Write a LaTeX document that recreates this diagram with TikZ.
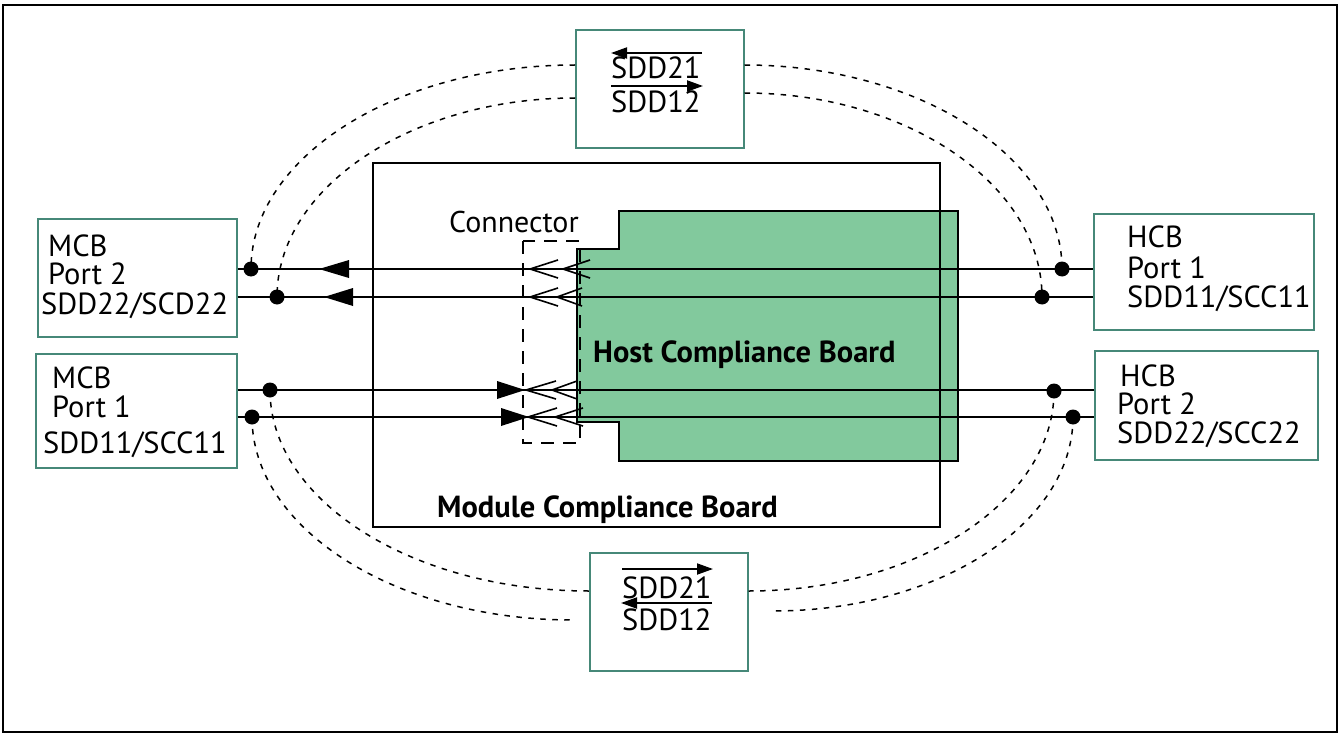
\documentclass[tikz,border=0pt]{standalone}
\usepackage{fontspec}
\setmainfont{PT Sans}
\usetikzlibrary{arrows.meta}
\definecolor{tealb}{RGB}{70,136,120}
\definecolor{hcbgreen}{RGB}{130,201,157}
\begin{document}
\begin{tikzpicture}[x=1pt,y=-1pt,
  portbox/.style={draw=tealb, line width=1.7pt, inner sep=0pt, anchor=north west},
  lbl/.style={anchor=base west, inner sep=0pt, font=\fontsize{30.5}{32}\selectfont},
  blbl/.style={anchor=base west, inner sep=0pt, font=\fontsize{30.5}{32}\selectfont\bfseries},
  dotn/.style={circle, fill=black, inner sep=0pt, minimum size=15pt},
  sig/.style={line width=1.8pt},
  dcurve/.style={dash pattern=on 5.5pt off 6.5pt, line width=1.5pt},
  pin/.style={line width=1.6pt},
  ovl/.style={line width=1.9pt, -{Triangle[length=16pt,width=11pt]}},
  tri/.style={fill=black}
]
\useasboundingbox (0,0) rectangle (1341,733);
% outer frame
\draw[line width=1.9pt] (3,5) rectangle (1337,732);

% boards
\draw[line width=1.9pt, fill=hcbgreen] (958,211) -- (619,211) -- (619,249) -- (577,249) -- (577,422) -- (619,422) -- (619,461) -- (958,461) -- cycle;
\node[draw, line width=1.8pt, inner sep=0pt, anchor=north west, minimum width=567pt, minimum height=364pt] (mcbd) at (372,162) {};
\node[blbl] (hcbt) at (593,362) {Host Compliance Board};
\node[blbl] (mcbt) at (437,517) {Module Compliance Board};
\node[lbl, font=\fontsize{30}{32}\selectfont] (connt) at (449,232) {Connector};
\draw[line width=1.6pt, dash pattern=on 13pt off 9pt] (523,241) rectangle (580,443);

% port boxes
\node[portbox, minimum width=168pt, minimum height=118pt] (top) at (575,29) {};
\node[portbox, minimum width=158pt, minimum height=118pt] (bot) at (589,552) {};
\node[portbox, minimum width=199pt, minimum height=118pt] (mcb2) at (37,218) {};
\node[portbox, minimum width=201pt, minimum height=114pt] (mcb1) at (35,353) {};
\node[portbox, minimum width=220pt, minimum height=116pt] (hcb1) at (1093,213) {};
\node[portbox, minimum width=223pt, minimum height=109pt] (hcb2) at (1094,350) {};

% port texts
\node[lbl] (m2a) at (48,256) {MCB};
\node[lbl] (m2b) at (48,284) {Port 2};
\node[lbl] (m2c) at (41,314) {SDD22/SCD22};
\node[lbl] (m1a) at (52,388) {MCB};
\node[lbl] (m1b) at (52,417) {Port 1};
\node[lbl] (m1c) at (43,453) {SDD11/SCC11};
\node[lbl] (h1a) at (1127,247) {HCB};
\node[lbl] (h1b) at (1127,278) {Port 1};
\node[lbl] (h1c) at (1127,307) {SDD11/SCC11};
\node[lbl] (h2a) at (1120,386) {HCB};
\node[lbl] (h2b) at (1117,414) {Port 2};
\node[lbl] (h2c) at (1117,443) {SDD22/SCC22};

% top / bottom texts
\node[lbl] (t1) at (611,79) {SDD21};
\node[lbl] (t2) at (611,113) {SDD12};
\coordinate (t1a) at (702,53); \coordinate (t1b) at (611,53);
\coordinate (t2a) at (611,86); \coordinate (t2b) at (703,86);
\draw[ovl] (t1a) -- (t1b);
\draw[ovl] (t2a) -- (t2b);
\node[lbl] (b1) at (622,598) {SDD21};
\node[lbl] (b2) at (622,630) {SDD12};
\coordinate (b1a) at (622,569); \coordinate (b1b) at (713,569);
\coordinate (b2a) at (712,603); \coordinate (b2b) at (621,603);
\draw[ovl] (b1a) -- (b1b);
\draw[ovl] (b2a) -- (b2b);

% signal levels
\coordinate (yA) at (0,269);
\coordinate (yB) at (0,297);
\coordinate (yC) at (0,390);
\coordinate (yD) at (0,417);
\draw[sig] (mcb2.east |- yA) -- (hcb1.west |- yA);
\draw[sig] (mcb2.east |- yB) -- (hcb1.west |- yB);
\draw[sig] (mcb1.east |- yC) -- (hcb2.west |- yC);
\draw[sig] (mcb1.east |- yD) -- (hcb2.west |- yD);

% filled arrowheads
\fill[tri] (349,260) -- (319,269) -- (349,278) -- cycle;
\fill[tri] (353,288) -- (324,297) -- (353,306) -- cycle;
\fill[tri] (497,381) -- (525,390) -- (497,399) -- cycle;
\fill[tri] (501,408) -- (529,417) -- (501,426) -- cycle;

% connector pins (open chevrons)
\draw[pin] (558,260) -- (530,269) -- (558,278);
\draw[pin] (590,260) -- (563,269) -- (590,278);
\draw[pin] (558,288) -- (530,297) -- (558,306);
\draw[pin] (582,288) -- (557,297) -- (582,306);
\draw[pin] (556,381) -- (526,390) -- (556,399);
\draw[pin] (577,381) -- (552,390) -- (577,399);
\draw[pin] (557,408) -- (528,417) -- (557,426);
\draw[pin] (583,408) -- (555,417) -- (583,426);

% dots
\node[dotn] (d1) at (251,269) {};
\node[dotn] (d2) at (277,297) {};
\node[dotn] (d3) at (270,390) {};
\node[dotn] (d4) at (252,417) {};
\node[dotn] (d5) at (1062,269) {};
\node[dotn] (d6) at (1042,297) {};
\node[dotn] (d7) at (1054,391) {};
\node[dotn] (d8) at (1073,417) {};

% dashed loops
\coordinate (eTL1) at (top.west |- 0,65);
\coordinate (eTL2) at (top.west |- 0,98);
\coordinate (eTR1) at (top.east |- 0,65);
\coordinate (eTR2) at (top.east |- 0,93);
\coordinate (eBL1) at (bot.west |- 0,591);
\coordinate (eBL2) at (573,620);
\coordinate (eBR1) at (bot.east |- 0,591);
\coordinate (eBR2) at (773,611);
\draw[dcurve] (eTL1) .. controls (397,65) and (251,157) .. (d1.center);
\draw[dcurve] (eTL2) .. controls (411,98) and (277,188) .. (d2.center);
\draw[dcurve] (eTR1) .. controls (918,65) and (1062,157) .. (d5.center);
\draw[dcurve] (eTR2) .. controls (907,93) and (1042,185) .. (d6.center);
\draw[dcurve] (d3.center) .. controls (270,501) and (413,591) .. (eBL1);
\draw[dcurve] (d4.center) .. controls (252,529) and (396,620) .. (eBL2);
\draw[dcurve] (d7.center) .. controls (1054,501) and (916,591) .. (eBR1);
\draw[dcurve] (d8.center) .. controls (1073,524) and (938,611) .. (eBR2);
\end{tikzpicture}
\end{document}
